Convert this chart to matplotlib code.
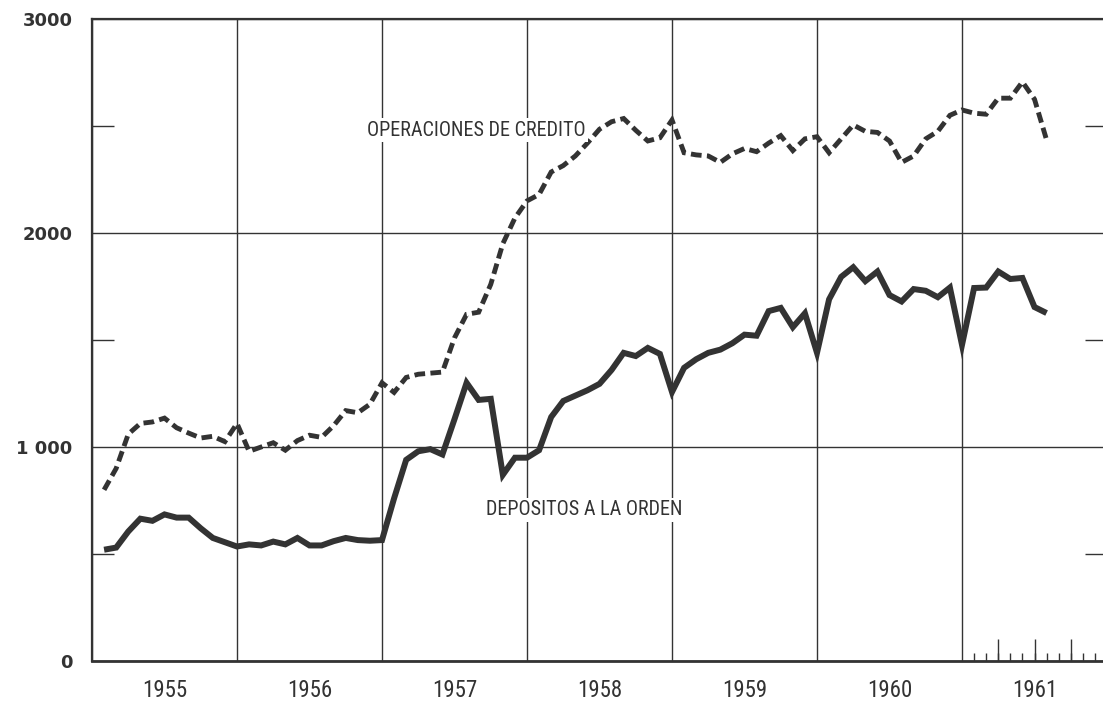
import numpy as np
import matplotlib
matplotlib.use("Agg")
import matplotlib.pyplot as plt
import matplotlib.transforms as mtransforms
from matplotlib import font_manager

# ---- data (monthly, Jan 1955 .. Jul 1961) ----
years = ["1955", "1956", "1957", "1958", "1959", "1960", "1961"]
deposits = [
    520, 530, 605, 665, 655, 685, 670, 670, 620, 575, 555, 535,        # 1955
    545, 540, 558, 545, 575, 540, 540, 560, 575, 565, 562, 565,        # 1956
    760, 940, 980, 990, 965, 1130, 1300, 1220, 1225, 870, 950, 950,    # 1957
    985, 1140, 1215, 1240, 1265, 1295, 1360, 1440, 1425, 1463, 1435, 1257,  # 1958
    1370, 1410, 1440, 1455, 1485, 1525, 1520, 1635, 1650, 1560, 1625, 1440,  # 1959
    1690, 1795, 1840, 1775, 1820, 1710, 1680, 1738, 1730, 1700, 1745, 1477,  # 1960
    1743, 1745, 1820, 1785, 1790, 1654, 1626,                          # 1961
]
credit = [
    800, 900, 1060, 1110, 1117, 1135, 1090, 1065, 1042, 1050, 1025, 1110,
    980, 1000, 1020, 985, 1030, 1055, 1045, 1100, 1170, 1160, 1200, 1300,
    1255, 1325, 1340, 1345, 1350, 1510, 1620, 1630, 1760, 1950, 2070, 2150,
    2180, 2285, 2315, 2360, 2420, 2485, 2520, 2535, 2480, 2430, 2445, 2528,
    2375, 2365, 2360, 2330, 2370, 2395, 2380, 2420, 2455, 2385, 2440, 2450,
    2375, 2440, 2505, 2475, 2470, 2430, 2330, 2360, 2440, 2475, 2550, 2575,
    2560, 2555, 2630, 2630, 2706, 2625, 2435,
]
y_ticks = [0, 1000, 2000, 3000]
y_ticklabels = ["0", "1 000", "2000", "3000"]
y_minor = [500, 1500, 2500]
label_credit = "OPERACIONES DE CREDITO"
label_deposits = "DEPOSITOS A LA ORDEN"

months = np.arange(1, len(deposits) + 1)  # month-end positions
ink = "#333333"

# pick a condensed face if one is installed
available = {f.name for f in font_manager.fontManager.ttflist}
narrow_family = "DejaVu Sans"
narrow_stretch = "condensed"
for cand in ["Roboto Condensed", "Liberation Sans Narrow", "Open Sans Condensed",
             "DejaVu Sans"]:
    if cand in available:
        narrow_family = cand
        break

fig = plt.figure(figsize=(11.03, 7.01), dpi=100)
fig.patch.set_facecolor("white")
ax = fig.add_axes([92 / 1103, 40 / 701, (1107 - 92) / 1103, (661 - 19) / 701])

ax.plot(months, deposits, color=ink, lw=4.3, solid_joinstyle="miter",
        solid_capstyle="butt", zorder=3)
ax.plot(months, credit, color=ink, lw=3.5, linestyle=(0, (2.2, 1.1)),
        dash_capstyle="butt", dash_joinstyle="miter", zorder=3)

ax.set_xlim(0, 84)
ax.set_ylim(0, 3000)

# spines
for s in ["left", "top", "bottom", "right"]:
    ax.spines[s].set_color(ink)
ax.spines["left"].set_linewidth(1.6)
ax.spines["top"].set_linewidth(1.6)
ax.spines["bottom"].set_linewidth(2.0)
ax.spines["right"].set_linewidth(1.6)

# x: year boundaries as gridlines
ax.set_xticks(np.arange(0, 85, 12))
ax.set_xticklabels([])
ax.tick_params(axis="x", which="major", length=0)
ax.xaxis.grid(True, which="major", color=ink, lw=1.0)
# monthly ticks in 1961
ax.set_xticks(np.arange(73, 84), minor=True)
ax.tick_params(axis="x", which="minor", direction="in", length=6,
               width=1.0, color=ink)
sec = ax.secondary_xaxis("bottom")
sec.set_xticks([75, 78, 81])
sec.set_xticklabels([])
sec.tick_params(direction="in", length=16, width=1.0, color=ink)
sec.spines["bottom"].set_visible(False)

# year labels
trans = mtransforms.blended_transform_factory(ax.transData, ax.transAxes)
for i, yr in enumerate(years):
    ax.text(12 * i + 6, -0.046, yr, transform=trans, ha="center", va="center",
            fontsize=16.5, color=ink, family=narrow_family,
            fontstretch=narrow_stretch)

# y axis
ax.set_yticks(y_ticks)
ax.set_yticklabels(y_ticklabels, fontsize=13, fontweight="bold", color=ink,
                   family="DejaVu Sans")
ax.tick_params(axis="y", which="major", length=0, pad=14)
ax.yaxis.grid(True, which="major", color=ink, lw=1.0)
ax.set_yticks(y_minor, minor=True)
ax.tick_params(axis="y", which="minor", direction="in", length=16, width=1.0,
               color=ink, left=True, right=True)
ax.set_axisbelow(True)

# series labels
ax.text(31.8, 2481, label_credit, ha="center", va="center",
        fontsize=14.5, color=ink, family=narrow_family, fontstretch=narrow_stretch,
        zorder=4, bbox=dict(facecolor="white", edgecolor="none", pad=2))
ax.text(40.7, 706, label_deposits, ha="center", va="center",
        fontsize=14.5, color=ink, family=narrow_family, fontstretch=narrow_stretch,
        zorder=4, bbox=dict(facecolor="white", edgecolor="none", pad=2))

fig.savefig("out.png", dpi=100, facecolor="white")
